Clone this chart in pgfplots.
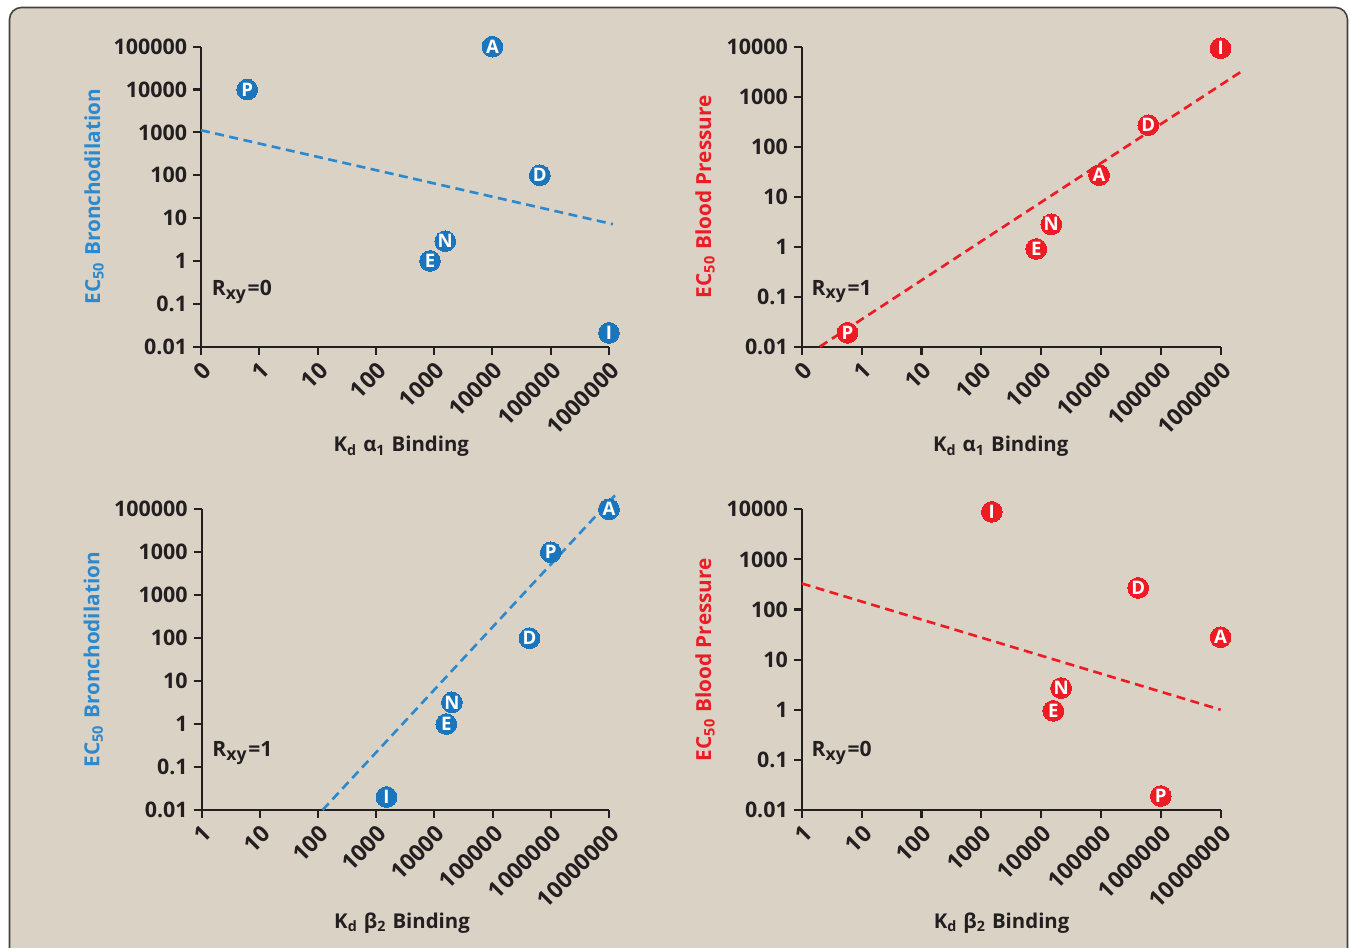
\documentclass[border=0pt]{standalone}
\usepackage{pgfplots}
\pgfplotsset{compat=1.18}
\usepackage{fontspec}
\setmainfont{Open Sans}
\definecolor{bg}{HTML}{DBD2C6}
\definecolor{mblue}{HTML}{1B75BC}
\definecolor{lblue}{HTML}{2B8ACF}
\definecolor{mred}{HTML}{ED1C24}
\definecolor{ink}{HTML}{231F20}
\pgfplotsset{
  myPanel/.style={
    scale only axis, axis lines=left, axis line style={-, ink, line width=0.6pt},
    clip=false,
    xminorticks=false, yminorticks=false,
    tick style={ink, line width=0.6pt}, tick align=outside, major tick length=0.08cm,
    every tick label/.append style={font=\bfseries\fontsize{6.1}{7}\selectfont, text=ink},
    xticklabel style={rotate=45, anchor=north east, inner sep=1pt, font=\bfseries\fontsize{6.5}{7}\selectfont},
    yticklabel style={inner sep=1.5pt},
    xlabel style={anchor=center, font=\bfseries\fontsize{5.8}{6}\selectfont, text=ink},
    ylabel style={anchor=center, font=\bfseries\fontsize{5.9}{6}\selectfont},
  },
  myPts/.style={color=#1, only marks, mark=*, mark size=2.95pt, mark options={fill=#1, draw=#1, line width=0pt},
    point meta=explicit symbolic, nodes near coords,
    every node near coord/.append style={anchor=center, inner sep=0pt, text=white, font=\bfseries\fontsize{5.3}{5}\selectfont}},
  myDline/.style={color=#1, line width=0.75pt, dash pattern=on 0.09cm off 0.055cm},
}
\newcommand{\rxy}[1]{R\textsubscript{xy}=#1}
\begin{document}
\begin{tikzpicture}
\useasboundingbox (0,0) rectangle (13.5cm,9.48cm);
\draw[line width=0.45pt, draw=ink!85, fill=bg, rounded corners=0.12cm] (0.095cm,9.405cm) rectangle (13.475cm,-0.3cm);

% Panel 1
\begin{axis}[xmode=log, ymode=log, myPanel, width=4.08cm, height=3.0cm, at={(2.01cm,6.013cm)}, anchor=south west,
  xmin=0.1, xmax=1e6, ymin=0.01, ymax=1e5,
  xtick={0.1,1,10,100,1000,10000,100000,1000000},
  xticklabels={0,1,10,100,1000,10000,100000,1000000},
  ytick={0.01,0.1,1,10,100,1000,10000,100000},
  yticklabels={0.01,0.1,1,10,100,1000,10000,100000},
  xlabel={K\textsubscript{d} α\textsubscript{1} Binding},
  xlabel style={at={(axis description cs:0.491,-0.333)}},
  ylabel={EC\textsubscript{50} Bronchodilation},
  ylabel style={at={(axis description cs:-0.262,0.5)}, text=lblue},
]
\addplot[myDline=lblue] coordinates {(0.1,1122) (1.17e6,7.2)};
\addplot[myPts=mblue] coordinates {
  (10000,100000) [A]
  (0.62,10000) [P]
  (65000,100) [D]
  (1550,2.9) [N]
  (850,1) [E]
  (1000000,0.021) [I]
};
\node[anchor=west, inner sep=0pt, text=ink, font=\bfseries\fontsize{6}{7}\selectfont] at (rel axis cs:0.025,0.183) {\rxy{0}};
\end{axis}

% Panel 2
\begin{axis}[xmode=log, ymode=log, myPanel, width=4.188cm, height=3.0cm, at={(8.018cm,6.013cm)}, anchor=south west,
  xmin=0.1, xmax=1e6, ymin=0.01, ymax=1e4,
  xtick={0.1,1,10,100,1000,10000,100000,1000000},
  xticklabels={0,1,10,100,1000,10000,100000,1000000},
  ytick={0.01,0.1,1,10,100,1000,10000},
  yticklabels={0.01,0.1,1,10,100,1000,10000},
  xlabel={K\textsubscript{d} α\textsubscript{1} Binding},
  xlabel style={at={(axis description cs:0.475,-0.333)}},
  ylabel={EC\textsubscript{50} Blood Pressure},
  ylabel style={at={(axis description cs:-0.231,0.5)}, text=mred},
]
\addplot[myDline=mred] coordinates {(0.2,0.01) (2.2e6,3162)};
\addplot[myPts=mred] coordinates {
  (1000000,9300) [I]
  (62000,270) [D]
  (9300,27) [A]
  (1480,2.8) [N]
  (830,0.9) [E]
  (0.58,0.019) [P]
};
\node[anchor=west, inner sep=0pt, text=ink, font=\bfseries\fontsize{6}{7}\selectfont] at (rel axis cs:0.022,0.183) {\rxy{1}};
\end{axis}

% Panel 3
\begin{axis}[xmode=log, ymode=log, myPanel, width=4.074cm, height=3.007cm, at={(2.016cm,1.38cm)}, anchor=south west,
  xmin=1, xmax=1e7, ymin=0.01, ymax=1e5,
  xtick={1,10,100,1000,10000,100000,1000000,10000000},
  xticklabels={1,10,100,1000,10000,100000,1000000,10000000},
  ytick={0.01,0.1,1,10,100,1000,10000,100000},
  yticklabels={0.01,0.1,1,10,100,1000,1000,100000},
  xlabel={K\textsubscript{d} β\textsubscript{2} Binding},
  xlabel style={at={(axis description cs:0.492,-0.375)}},
  ylabel={EC\textsubscript{50} Bronchodilation},
  ylabel style={at={(axis description cs:-0.266,0.5)}, text=lblue},
]
\addplot[myDline=lblue] coordinates {(120,0.01) (1.45e7,2.57e5)};
\addplot[myPts=mblue] coordinates {
  (10000000,100000) [A]
  (1000000,10000) [P]
  (430000,100) [D]
  (20000,3.2) [N]
  (16000,1) [E]
  (1500,0.02) [I]
};
\node[anchor=west, inner sep=0pt, text=ink, font=\bfseries\fontsize{6}{7}\selectfont] at (rel axis cs:0.025,0.19) {\rxy{1}};
\end{axis}

% Panel 4
\begin{axis}[xmode=log, ymode=log, myPanel, width=4.188cm, height=3.007cm, at={(8.018cm,1.38cm)}, anchor=south west,
  xmin=1, xmax=1e7, ymin=0.01, ymax=1e4,
  xtick={1,10,100,1000,10000,100000,1000000,10000000},
  xticklabels={1,10,100,1000,10000,100000,1000000,10000000},
  ytick={0.01,0.1,1,10,100,1000,10000},
  yticklabels={0.01,0.1,1,10,100,1000,10000},
  xlabel={K\textsubscript{d} β\textsubscript{2} Binding},
  xlabel style={at={(axis description cs:0.477,-0.375)}},
  ylabel={EC\textsubscript{50} Blood Pressure},
  ylabel style={at={(axis description cs:-0.231,0.5)}, text=mred},
]
\addplot[myDline=mred] coordinates {(1,331) (1e7,1)};
\addplot[myPts=mred] coordinates {
  (1500,8900) [I]
  (420000,270) [D]
  (10000000,28) [A]
  (21600,2.7) [N]
  (16000,0.95) [E]
  (1000000,0.019) [P]
};
\node[anchor=west, inner sep=0pt, text=ink, font=\bfseries\fontsize{6}{7}\selectfont] at (rel axis cs:0.022,0.19) {\rxy{0}};
\end{axis}
\end{tikzpicture}
\end{document}
